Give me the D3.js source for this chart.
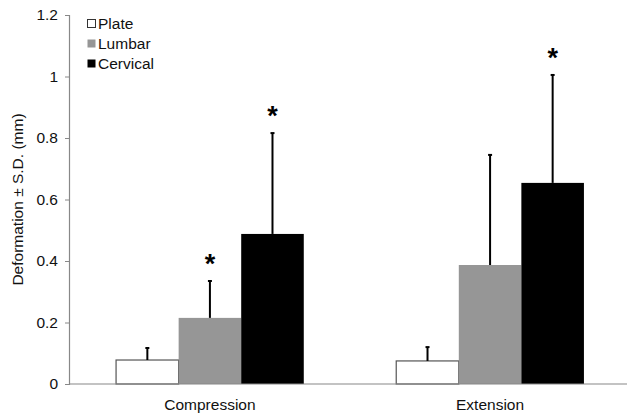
<!DOCTYPE html>
<html>
<head>
<meta charset="utf-8">
<title>Deformation</title>
<script src="https://d3js.org/d3.v7.min.js"></script>
<style>
  body { margin: 0; background: #fff; }
  text { font-family: Arial, "Liberation Sans", sans-serif; }
</style>
</head>
<body>
<script>
// data
const categories = ["Compression", "Extension"];
const series = ["Plate", "Lumbar", "Cervical"];
const colors = ["#ffffff", "#969696", "#000000"];
const plateMean = [0.078, 0.075];
const plateSD = [0.039, 0.045];
const lumbarMean = [0.215, 0.387];
const lumbarSD = [0.12, 0.358];
const cervicalMean = [0.488, 0.654];
const cervicalSD = [0.328, 0.351];
const significant = [[false, true, true], [false, false, true]];
const yTicks = [0, 0.2, 0.4, 0.6, 0.8, 1, 1.2];

const means = [plateMean, lumbarMean, cervicalMean];
const sds = [plateSD, lumbarSD, cervicalSD];

const W = 627, H = 414;
const margin = { top: 15, right: 0, bottom: 30, left: 69 };
const fs = "15.5px";

const svg = d3.select("body").append("svg")
    .attr("width", W)
    .attr("height", H);

const y = d3.scaleLinear()
    .domain([0, 1.2])
    .range([384, 15]);

const x0 = d3.scaleBand()
    .domain(categories)
    .range([margin.left, 631])
    .paddingInner(0.33)
    .paddingOuter(0.168);

const x1 = d3.scaleBand()
    .domain(series)
    .range([0, x0.bandwidth()]);

// flatten for drawing
const rows = [];
categories.forEach((c, ci) => {
    series.forEach((s, si) => {
        rows.push({ cat: c, ser: s, si: si, mean: means[si][ci], sd: sds[si][ci], sig: significant[ci][si] });
    });
});

// bars
svg.append("g").selectAll("rect")
    .data(rows)
    .join("rect")
    .attr("x", d => x0(d.cat) + x1(d.ser))
    .attr("y", d => y(d.mean))
    .attr("width", x1.bandwidth())
    .attr("height", d => y(0) - y(d.mean))
    .attr("fill", d => colors[d.si])
    .attr("stroke", d => d.si === 0 ? "#555" : "none")
    .attr("stroke-width", 1.2);

// error bars (upper only)
const eb = svg.append("g");
eb.selectAll("line.v")
    .data(rows)
    .join("line")
    .attr("x1", d => x0(d.cat) + x1(d.ser) + x1.bandwidth() / 2)
    .attr("x2", d => x0(d.cat) + x1(d.ser) + x1.bandwidth() / 2)
    .attr("y1", d => y(d.mean))
    .attr("y2", d => y(d.mean + d.sd))
    .attr("stroke", "#000")
    .attr("stroke-width", 2);
eb.selectAll("line.c")
    .data(rows)
    .join("line")
    .attr("x1", d => x0(d.cat) + x1(d.ser) + x1.bandwidth() / 2 - 2)
    .attr("x2", d => x0(d.cat) + x1(d.ser) + x1.bandwidth() / 2 + 2)
    .attr("y1", d => y(d.mean + d.sd))
    .attr("y2", d => y(d.mean + d.sd))
    .attr("stroke", "#000")
    .attr("stroke-width", 2);

// asterisks
svg.append("g").selectAll("text")
    .data(rows.filter(d => d.sig))
    .join("text")
    .attr("x", d => x0(d.cat) + x1(d.ser) + x1.bandwidth() / 2)
    .attr("y", d => y(d.mean + d.sd) - 8)
    .attr("text-anchor", "middle")
    .style("font-size", "27px")
    .style("font-weight", "bold")
    .text("*");

// y axis
const yAxis = svg.append("g")
    .attr("transform", `translate(${margin.left},0)`)
    .call(d3.axisLeft(y).tickValues(yTicks).tickSize(4).tickFormat(d3.format("~g")));
yAxis.select(".domain").attr("stroke", "#888").attr("stroke-width", 1.2);
yAxis.selectAll(".tick line").attr("stroke", "#888");
yAxis.selectAll(".tick text").attr("x", -11).style("font-size", fs).style("font-family", "Arial, 'Liberation Sans', sans-serif").attr("fill", "#111");

// x axis baseline
svg.append("line")
    .attr("x1", margin.left).attr("x2", W)
    .attr("y1", y(0)).attr("y2", y(0))
    .attr("stroke", "#888").attr("stroke-width", 1.2);

// category labels
svg.append("g").selectAll("text")
    .data(categories)
    .join("text")
    .attr("x", d => x0(d) + x0.bandwidth() / 2)
    .attr("y", 410)
    .attr("text-anchor", "middle")
    .style("font-size", fs)
    .attr("fill", "#111")
    .text(d => d);

// y label
svg.append("text")
    .attr("transform", `translate(23,${(y(0) + y(1.2)) / 2}) rotate(-90)`)
    .attr("text-anchor", "middle")
    .style("font-size", fs)
    .attr("fill", "#111")
    .text("Deformation ± S.D. (mm)");

// legend
const lg = svg.append("g").attr("transform", "translate(87,19)");
series.forEach((s, i) => {
    lg.append("rect")
        .attr("x", 0.5).attr("y", i * 20 + 0.5)
        .attr("width", 8).attr("height", 8)
        .attr("fill", colors[i])
        .attr("stroke", i === 0 ? "#333" : "none");
    lg.append("text")
        .attr("x", 11).attr("y", i * 20 + 9.5)
        .style("font-size", fs)
        .attr("fill", "#111")
        .text(s);
});
</script>
</body>
</html>
